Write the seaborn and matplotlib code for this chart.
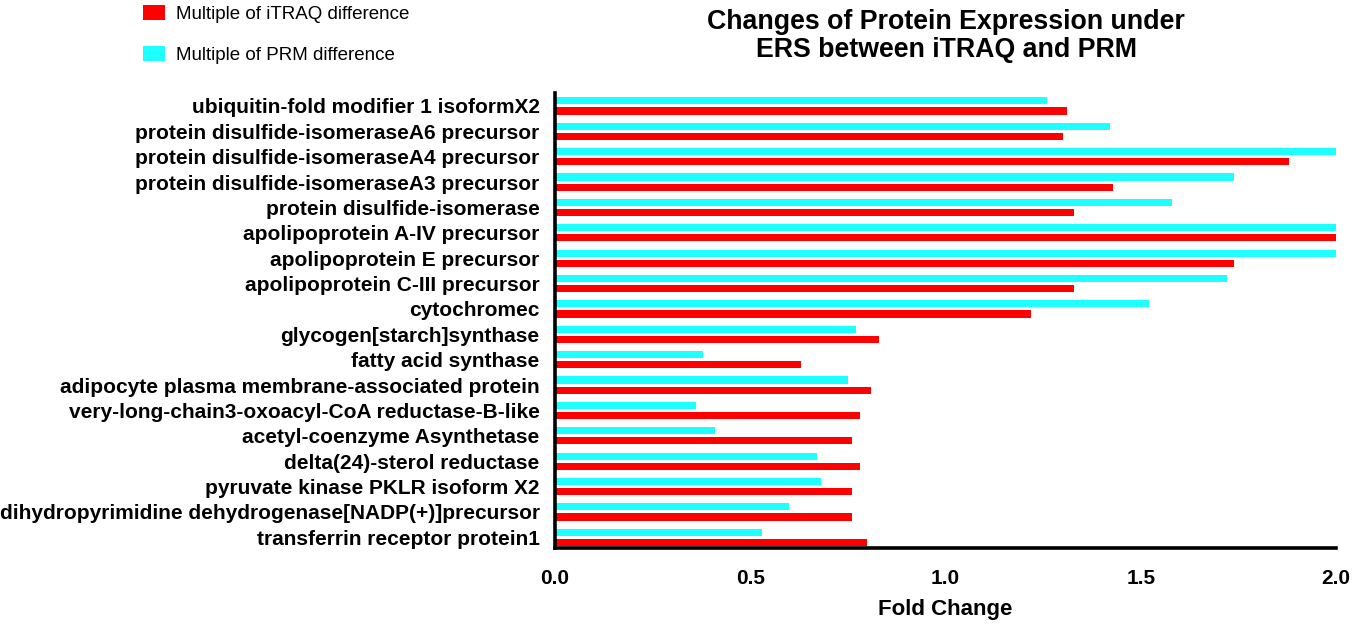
import matplotlib
matplotlib.use("Agg")
import matplotlib.pyplot as plt
import matplotlib.patches as mpatches
import seaborn as sns
import pandas as pd

proteins = [
    "ubiquitin-fold modifier 1 isoformX2",
    "protein disulfide-isomeraseA6 precursor",
    "protein disulfide-isomeraseA4 precursor",
    "protein disulfide-isomeraseA3 precursor",
    "protein disulfide-isomerase",
    "apolipoprotein A-IV precursor",
    "apolipoprotein E precursor",
    "apolipoprotein C-III precursor",
    "cytochromec",
    "glycogen[starch]synthase",
    "fatty acid synthase",
    "adipocyte plasma membrane-associated protein",
    "very-long-chain3-oxoacyl-CoA reductase-B-like",
    "acetyl-coenzyme Asynthetase",
    "delta(24)-sterol reductase",
    "pyruvate kinase PKLR isoform X2",
    "dihydropyrimidine dehydrogenase[NADP(+)]precursor",
    "transferrin receptor protein1",
]
itraq = [1.31, 1.30, 1.88, 1.43, 1.33, 2.00, 1.74, 1.33, 1.22, 0.83, 0.63,
         0.81, 0.78, 0.76, 0.78, 0.76, 0.76, 0.80]
prm = [1.26, 1.42, 2.00, 1.74, 1.58, 2.00, 2.00, 1.72, 1.52, 0.77, 0.38,
       0.75, 0.36, 0.41, 0.67, 0.68, 0.60, 0.53]
series_names = ["Multiple of iTRAQ difference", "Multiple of PRM difference"]
colors = {"Multiple of iTRAQ difference": "#FF0000",
          "Multiple of PRM difference": "#1EFFFF"}
xticks = [0.0, 0.5, 1.0, 1.5, 2.0]
xtick_labels = ["0.0", "0.5", "1.0", "1.5", "2.0"]

df = pd.concat([
    pd.DataFrame({"protein": proteins, "value": prm, "series": series_names[1]}),
    pd.DataFrame({"protein": proteins, "value": itraq, "series": series_names[0]}),
])

sns.set_style("white")
plt.rcParams["font.family"] = ["Liberation Sans", "DejaVu Sans"]
plt.rcParams["text.color"] = "black"
plt.rcParams["axes.labelcolor"] = "black"
plt.rcParams["xtick.color"] = "black"
plt.rcParams["ytick.color"] = "black"

fig = plt.figure(figsize=(13.54, 6.28), dpi=100)
ax = fig.add_axes([555 / 1354, 1 - 548 / 628, (1336 - 555) / 1354, (548 - 93) / 628])

sns.barplot(data=df, y="protein", x="value", hue="series",
            hue_order=[series_names[1], series_names[0]],
            order=proteins, palette=colors, orient="h", saturation=1,
            width=0.8, gap=0.3, ax=ax, legend=False, errorbar=None,
            edgecolor="none")

ax.set_xlim(0, 2.0)
ax.set_ylim(len(proteins) - 0.58, -0.51)
ax.set_xticks(xticks)
ax.set_xticklabels(xtick_labels, fontsize=15, fontweight="bold")
ax.set_yticks(range(len(proteins)))
ax.set_yticklabels(proteins, fontsize=15, fontweight="bold")
ax.set_ylabel("")
ax.set_xlabel("Fold Change", fontsize=16, fontweight="bold", labelpad=8)

for s in ["top", "right"]:
    ax.spines[s].set_visible(False)
for s in ["left", "bottom"]:
    ax.spines[s].set_linewidth(2.6)
    ax.spines[s].set_color("black")
ax.tick_params(axis="both", direction="out", length=8, width=2.6, color="black")
ax.tick_params(axis="y", pad=3)
ax.tick_params(axis="x", pad=7)

fig.text(946 / 1354, 1 - 9 / 628,
         "Changes of Protein Expression under\nERS between iTRAQ and PRM",
         ha="center", va="top", fontsize=19.3, fontweight="bold", linespacing=1.1)

handles = [mpatches.Patch(facecolor=colors[n], edgecolor="none", label=n) for n in series_names]
fig.legend(handles=handles, loc="upper left", bbox_to_anchor=(139 / 1354, 1 - 1 / 628),
           frameon=False, fontsize=13.5, handlelength=1.2, handleheight=0.85,
           labelspacing=1.25, handletextpad=0.6, borderaxespad=0, borderpad=0.2)

fig.savefig("out.png", dpi=100)
